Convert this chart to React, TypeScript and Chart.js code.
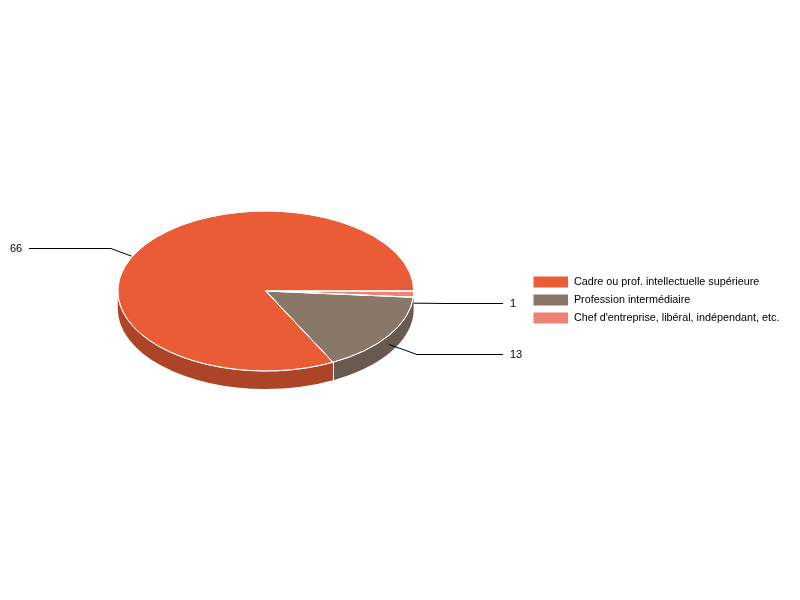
import { useEffect, useRef } from "react";
import { Chart, registerables } from "chart.js";

Chart.register(...registerables);

// dataset order runs clockwise from 3 o'clock, the legend shows it reversed
const categories = [
  "Chef d'entreprise, libéral, indépendant, etc.",
  "Profession intermédiaire",
  "Cadre ou prof. intellectuelle supérieure",
];
const values = [1, 13, 66];
const colors = ["#ED8375", "#897768", "#E95C36"];
const sideColors = ["#B16358", "#685A50", "#AC4528"];

const FONT = "'Liberation Sans', Arial, sans-serif";
const TILT = 80 / 148;
const DEPTH = 18;

// leader lines: shift of the anchor from the slice middle, elbow and text position
const leaderAnchor = [
  { dx: 0, dy: DEPTH / 2 },
  { dx: 0, dy: DEPTH / 2 },
  { dx: -8, dy: 7 },
];
const leaderElbow = [
  { x: 447, y: 303 },
  { x: 417, y: 354 },
  { x: 111, y: 248 },
];
const leaderEnd = [503, 503, 29];
const labelX = [510, 510, 10];

const pie3d = {
  id: "pie3d",
  afterLayout(chart: Chart) {
    // the legend sits apart from the pie, not centred on it
    const legend = chart.legend as any;
    const x = 527 - legend.left;
    legend.left += x;
    legend.right += x;
    legend.top += 9;
    legend.bottom += 9;
  },
  beforeDatasetsDraw(chart: Chart) {
    const { ctx } = chart;
    const arcs = chart.getDatasetMeta(0).data as any[];
    // side wall, only the front half of the pie can be seen
    arcs.forEach((arc, i) => {
      const start = Math.max(arc.startAngle, 0);
      const end = Math.min(arc.endAngle, Math.PI);
      if (end <= start) return;
      const rx = arc.outerRadius;
      const ry = rx * TILT;
      ctx.save();
      ctx.beginPath();
      ctx.ellipse(arc.x, arc.y, rx, ry, 0, start, end);
      ctx.ellipse(arc.x, arc.y + DEPTH, rx, ry, 0, end, start, true);
      ctx.closePath();
      ctx.fillStyle = sideColors[i];
      ctx.fill();
      ctx.restore();
    });
    arcs.forEach((arc) => {
      // white seam between two walls
      const start = arc.startAngle;
      if (start > 0.2 && start < Math.PI) {
        const sx = Math.round(arc.x + arc.outerRadius * Math.cos(start)) + 0.5;
        const sy = arc.y + arc.outerRadius * TILT * Math.sin(start);
        ctx.save();
        ctx.beginPath();
        ctx.moveTo(sx, sy);
        ctx.lineTo(sx, sy + DEPTH);
        ctx.strokeStyle = "#fff";
        ctx.lineWidth = 1;
        ctx.stroke();
        ctx.restore();
      }
    });
    // squash the library's round pie into the tilted ellipse
    const { x, y } = arcs[0];
    ctx.save();
    ctx.translate(x, y);
    ctx.scale(1, TILT);
    ctx.translate(-x, -y);
  },
  afterDatasetsDraw(chart: Chart) {
    const { ctx } = chart;
    ctx.restore();
    const arcs = chart.getDatasetMeta(0).data as any[];
    arcs.forEach((arc, i) => {
      const rx = arc.outerRadius;
      const ry = rx * TILT;
      // even 1px outline, the squashed dataset border is too thin
      ctx.save();
      ctx.beginPath();
      ctx.moveTo(arc.x, arc.y);
      ctx.ellipse(arc.x, arc.y, rx, ry, 0, arc.startAngle, arc.endAngle);
      ctx.closePath();
      ctx.strokeStyle = "#fff";
      ctx.lineWidth = 1;
      ctx.stroke();
      ctx.restore();

      const mid = (arc.startAngle + arc.endAngle) / 2;
      const ax = arc.x + rx * Math.cos(mid) + leaderAnchor[i].dx;
      const ay = arc.y + ry * Math.sin(mid) + leaderAnchor[i].dy;
      ctx.save();
      ctx.beginPath();
      ctx.moveTo(ax, ay);
      ctx.lineTo(leaderElbow[i].x, leaderElbow[i].y + 0.5);
      ctx.lineTo(leaderEnd[i], leaderElbow[i].y + 0.5);
      ctx.strokeStyle = "#000";
      ctx.lineWidth = 1;
      ctx.stroke();
      ctx.fillStyle = "#000";
      ctx.font = `11px ${FONT}`;
      ctx.textAlign = "left";
      ctx.textBaseline = "middle";
      ctx.fillText(String(values[i]), labelX[i], leaderElbow[i].y + 0.5);
      ctx.restore();
    });
  },
};

export default function App() {
  const canvasRef = useRef<HTMLCanvasElement | null>(null);

  useEffect(() => {
    if (!canvasRef.current) return;
    const chart = new Chart(canvasRef.current, {
      type: "pie",
      data: {
        labels: categories,
        datasets: [
          {
            data: values,
            backgroundColor: colors,
            borderColor: "#fff",
            borderWidth: 1,
            radius: 148,
          } as any,
        ],
      },
      options: {
        responsive: false,
        animation: false,
        rotation: 90,
        layout: { padding: { bottom: 18, right: 6 } },
        plugins: {
          tooltip: { enabled: false },
          legend: {
            position: "right",
            reverse: true,
            labels: {
              boxWidth: 35.5,
              boxHeight: 12,
              padding: 6,
              color: "#000",
              font: { family: FONT, size: 10.8 },
            },
          },
        },
      },
      plugins: [pie3d],
    });
    return () => chart.destroy();
  }, []);

  return (
    <div style={{ position: "fixed", left: 0, top: 0, width: 800, height: 600, background: "#fff" }}>
      <canvas ref={canvasRef} width={800} height={600} style={{ display: "block" }} />
    </div>
  );
}
